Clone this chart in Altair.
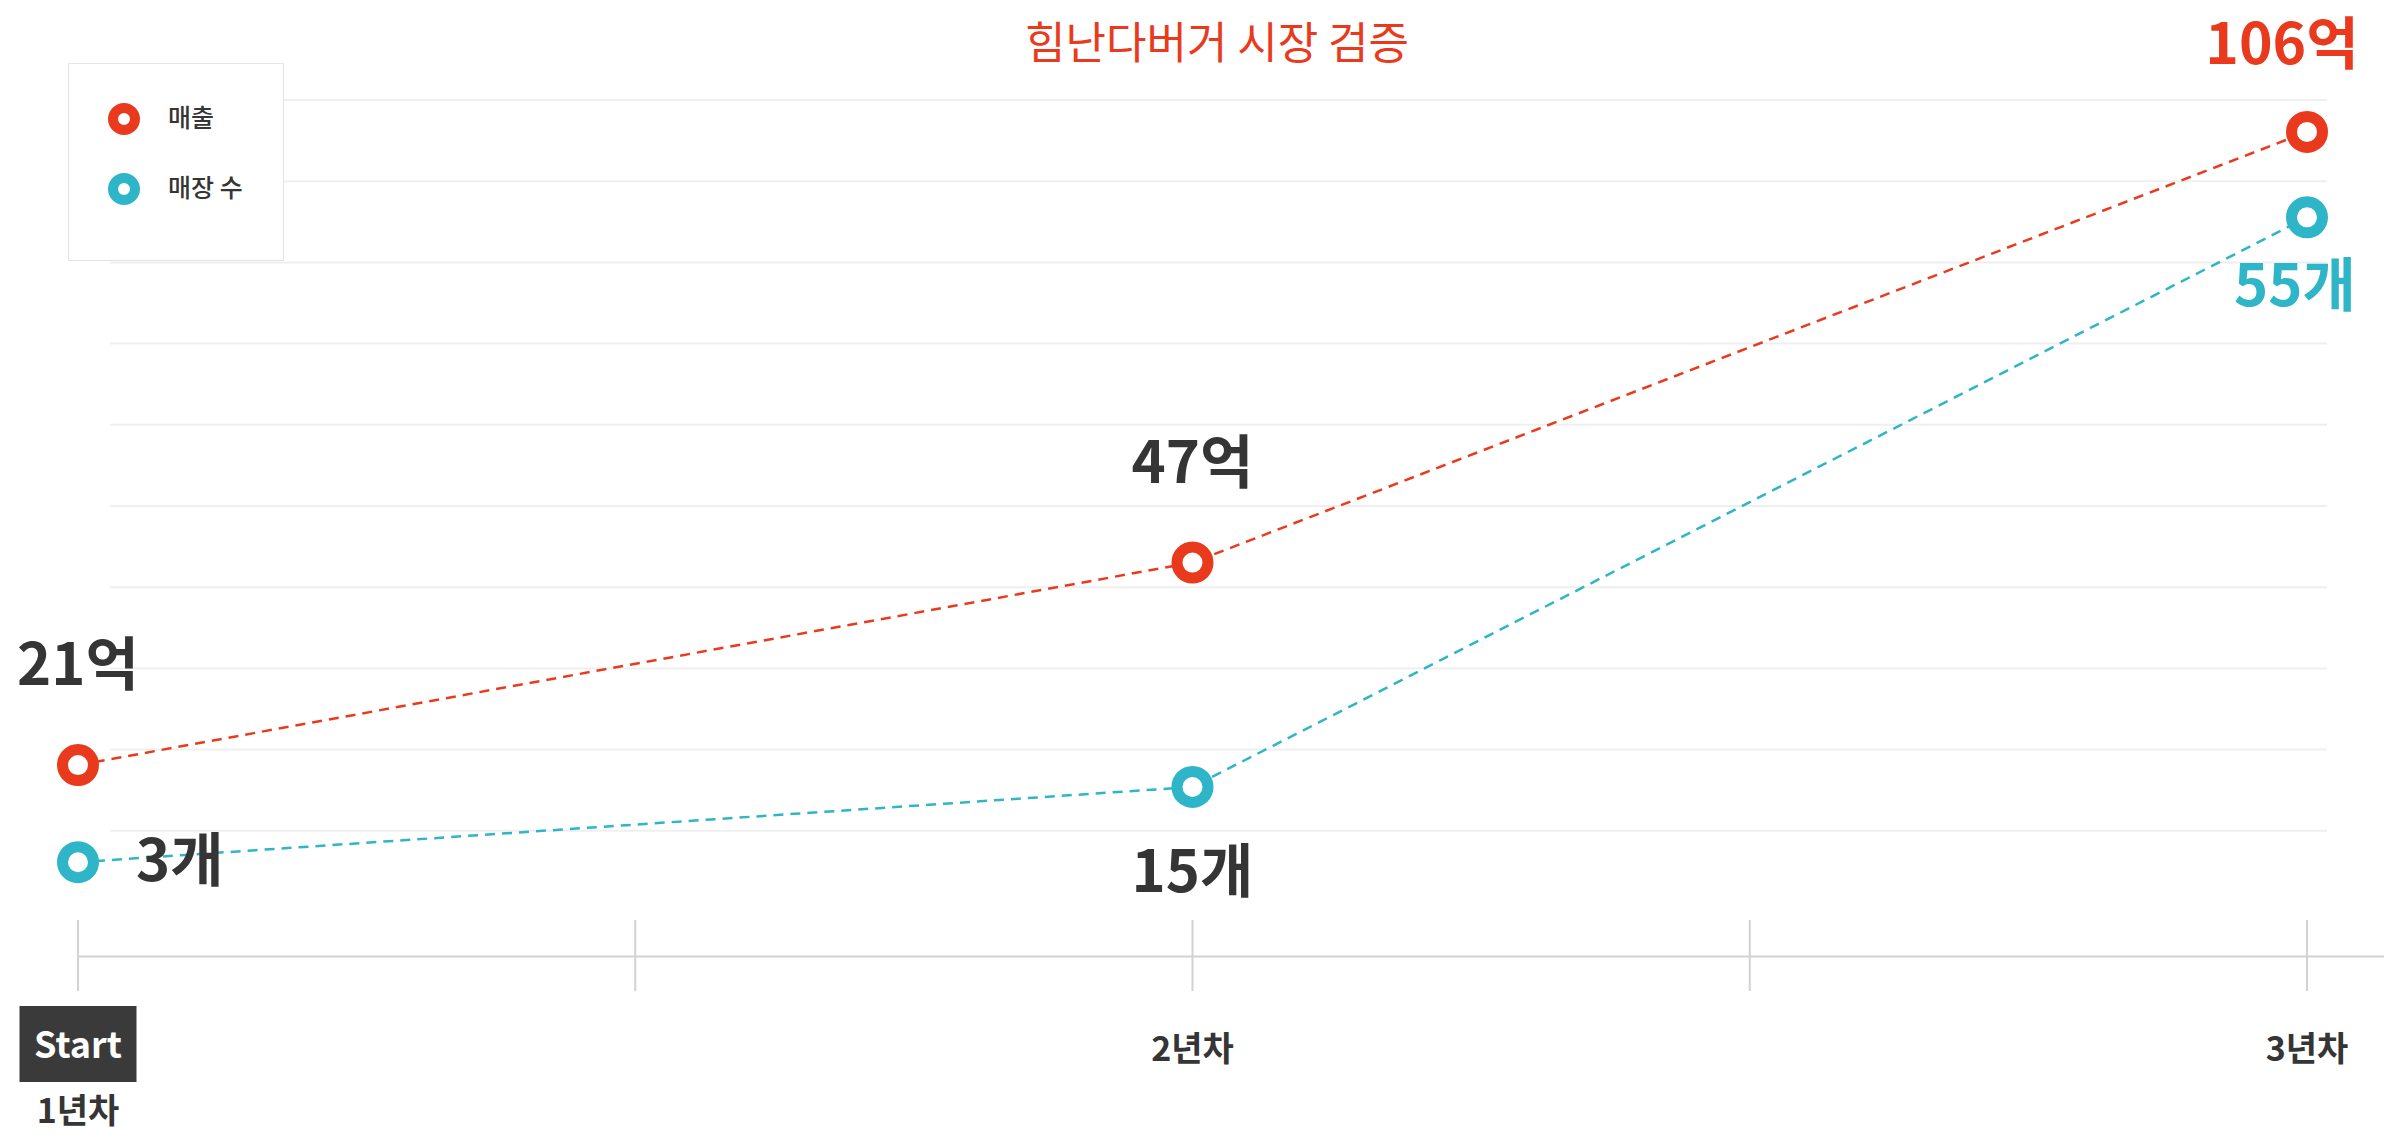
import altair as alt
import pandas as pd

# ---- data ----
YEARS = [1, 2, 3]
YEAR_LABELS = ["1년차", "2년차", "3년차"]
SALES = [21, 47, 106]                 # 매출 (억)
SALES_LABELS = ["21억", "47억", "106억"]
STORES = [3, 15, 55]                  # 매장 수 (개)
STORE_LABELS = ["3개", "15개", "55개"]
SERIES = ["매출", "매장 수"]
TICK_POS = [1, 1.5, 2, 2.5, 3]
GRID_LEVELS = list(range(10))
TITLE = "힘난다버거 시장 검증"
START_LABEL = "Start"

# ---- style ----
RED = "#EA3A1D"
TEAL = "#2EB5C7"
DARK = "#353535"
FONT = "Noto Sans CJK KR"
W, H = 2306, 856

sales_df = pd.DataFrame({"year": YEARS, "value": SALES, "label": SALES_LABELS, "series": SERIES[0]})
stores_df = pd.DataFrame({"year": YEARS, "value": STORES, "label": STORE_LABELS, "series": SERIES[1]})
year_df = pd.DataFrame({"year": YEARS, "label": YEAR_LABELS})
tick_df = pd.DataFrame({"pos": TICK_POS})
grid_df = pd.DataFrame({"level": GRID_LEVELS})
title_df = pd.DataFrame({"t": [TITLE]})

x_scale = alt.Scale(domain=[1, 3.0691], nice=False, zero=False)
x_axis = alt.Axis(title=None, labels=False, ticks=False, grid=False, domain=True,
                  domainColor="#d2d2d2", domainWidth=2)


def X(field):
    return alt.X(field, type="quantitative", scale=x_scale, axis=x_axis)


stroke_scale = alt.Scale(domain=SERIES, range=[RED, TEAL])
legend = alt.Legend(title=None, orient="none", legendX=-10, legendY=-37, padding=40,
                    rowPadding=8, fillColor="white", strokeColor="#e4e4e4",
                    symbolType="circle", symbolSize=484, symbolStrokeWidth=10,
                    symbolFillColor="white", labelFont=FONT, labelFontSize=25,
                    labelColor=DARK, labelFontWeight=500, labelOffset=28, cornerRadius=0)

grid = alt.Chart(grid_df).mark_rule(color="#efefef", strokeWidth=2).encode(
    y=alt.Y("level:Q", scale=alt.Scale(domain=[-1.542, 9], nice=False, zero=False), axis=None),
    x=alt.value(32), x2=alt.value(2249))

ticks = alt.Chart(tick_df).mark_rule(color="#d2d2d2", strokeWidth=2).encode(
    x=X("pos"), y=alt.value(H - 36), y2=alt.value(H + 35))

# ---- 매출 ----
sy = alt.Y("value:Q", scale=alt.Scale(type="pow", exponent=0.92, domain=[-0.56, 110.5],
                                     nice=False, zero=False), axis=None)
sbase = alt.Chart(sales_df).encode(x=X("year"), y=sy)
sline = sbase.mark_line(color=RED, strokeWidth=2.5, strokeDash=[10, 7])
spts = sbase.mark_point(filled=True, fill="white", size=961, strokeWidth=11, opacity=1).encode(
    stroke=alt.Stroke("series:N", scale=stroke_scale, legend=legend))
stext_a = sbase.mark_text(font=FONT, fontSize=58, fontWeight="bold", color=DARK,
                          baseline="middle", dy=-97).encode(text="label:N").transform_filter(
    alt.datum.year < 3)
stext_b = sbase.mark_text(font=FONT, fontSize=57, fontWeight="bold", color=RED,
                          baseline="middle", dx=-25, dy=-85).encode(text="label:N").transform_filter(
    alt.datum.year == 3)
sales_layer = alt.layer(sline, spts, stext_a, stext_b)

# ---- 매장 수 ----
ty = alt.Y("value:Q", scale=alt.Scale(type="pow", exponent=1.6, domain=[-15.7, 61.0],
                                     nice=False, zero=False), axis=None)
tbase = alt.Chart(stores_df).encode(x=X("year"), y=ty)
tline = tbase.mark_line(color=TEAL, strokeWidth=2.5, strokeDash=[10, 7])
tpts = tbase.mark_point(filled=True, fill="white", size=961, strokeWidth=11, opacity=1).encode(
    stroke=alt.Stroke("series:N", scale=stroke_scale, legend=legend))
ttext_a = tbase.mark_text(font=FONT, fontSize=58, fontWeight="bold", color=DARK,
                          baseline="middle", align="left", dx=58, dy=2).encode(
    text="label:N").transform_filter(alt.datum.year == 1)
ttext_b = tbase.mark_text(font=FONT, fontSize=58, fontWeight="bold", color=DARK,
                          baseline="middle", dy=88).encode(text="label:N").transform_filter(
    alt.datum.year == 2)
ttext_c = tbase.mark_text(font=FONT, fontSize=58, fontWeight="bold", color=TEAL,
                          baseline="middle", dx=-12, dy=72).encode(text="label:N").transform_filter(
    alt.datum.year == 3)
stores_layer = alt.layer(tline, tpts, ttext_a, ttext_b, ttext_c)

# ---- x labels ----
xlab = alt.Chart(year_df).transform_filter(alt.datum.year > 1).mark_text(
    font=FONT, fontSize=34, fontWeight="bold", color=DARK, baseline="middle").encode(
    x=X("year"), y=alt.value(H + 95), text="label:N")
xlab1 = alt.Chart(year_df).transform_filter(alt.datum.year == 1).mark_text(
    font=FONT, fontSize=34, fontWeight="bold", color=DARK, baseline="middle").encode(
    x=X("year"), y=alt.value(H + 157), text="label:N")
start_box = alt.Chart(year_df).transform_filter(alt.datum.year == 1).mark_point(
    shape="M-1,-0.65L1,-0.65L1,0.65L-1,0.65Z", size=13689, filled=True,
    color="#3a3a3a", opacity=1, strokeWidth=0).encode(x=X("year"), y=alt.value(H + 88))
start_text = alt.Chart(year_df).transform_filter(alt.datum.year == 1).mark_text(
    text=START_LABEL, font=FONT, fontSize=36, fontWeight="bold", color="white",
    baseline="middle").encode(x=X("year"), y=alt.value(H + 91))

title = alt.Chart(title_df).mark_text(font=FONT, fontSize=44, color=RED,
                                      baseline="middle").encode(
    text="t:N", x=alt.value(1139), y=alt.value(-54))

chart = alt.layer(
    grid, ticks, sales_layer, stores_layer, xlab, xlab1, start_box, start_text, title
).resolve_scale(y="independent").properties(
    width=W, height=H,
    padding={"left": 70, "top": 92, "right": 0, "bottom": 175},
    autosize=alt.AutoSizeParams(type="none"),
    background="white",
).configure_view(stroke=None)

chart.save("out.html", embed_options={"renderer": "svg", "actions": False})
